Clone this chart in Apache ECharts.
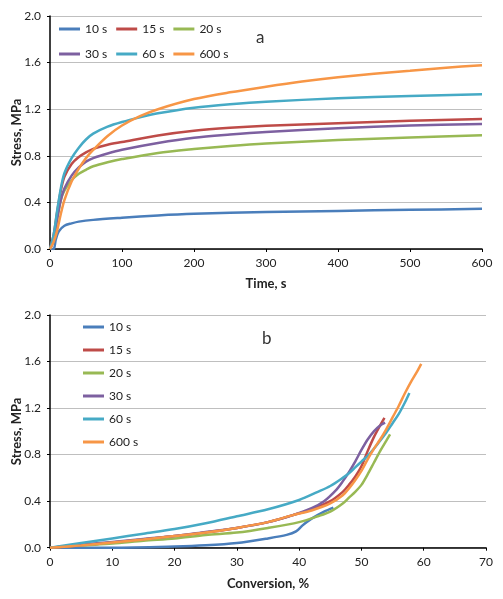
<!DOCTYPE html>
<html><head><meta charset="utf-8">
<script src="https://cdn.jsdelivr.net/npm/echarts@6/dist/echarts.min.js"></script>
<style>html,body{margin:0;padding:0;background:#fff}#c{width:503px;height:599px}</style>
</head><body><div id="c"></div>
<script>
const seriesNames = ['10 s','15 s','20 s','30 s','60 s','600 s'];
const colors = ['#4A7EBB','#BE4B48','#98B954','#7D60A0','#46AAC5','#F79646'];
const yTicks = [0.0,0.4,0.8,1.2,1.6,2.0];

// Panel a: time (s) vs stress (MPa)
const timeA_10 = [[0,0],[5,0],[8,0.08],[12,0.15],[20,0.2],[30,0.22],[40,0.235],[60,0.25],[100,0.268],[150,0.288],[200,0.302],[300,0.317],[400,0.327],[500,0.336],[600,0.345]];
const timeA_15 = [[0,0],[5,0.12],[10,0.32],[15,0.5],[20,0.62],[30,0.73],[40,0.79],[50,0.83],[60,0.86],[80,0.895],[100,0.918],[150,0.975],[200,1.015],[250,1.04],[300,1.057],[400,1.08],[500,1.1],[600,1.116]];
const timeA_20 = [[0,0],[5,0.08],[10,0.26],[15,0.42],[20,0.5],[30,0.59],[40,0.645],[50,0.68],[60,0.71],[80,0.745],[100,0.772],[150,0.825],[200,0.858],[250,0.885],[300,0.906],[400,0.935],[500,0.958],[600,0.977]];
const timeA_30 = [[0,0],[5,0.08],[10,0.26],[15,0.42],[20,0.52],[30,0.63],[40,0.70],[50,0.75],[60,0.78],[80,0.82],[100,0.852],[150,0.91],[200,0.955],[250,0.982],[300,1.004],[400,1.037],[500,1.06],[600,1.074]];
const timeA_60 = [[0,0],[5,0.12],[10,0.33],[15,0.52],[20,0.65],[30,0.78],[40,0.87],[50,0.94],[60,0.99],[80,1.05],[100,1.09],[125,1.13],[150,1.165],[200,1.213],[250,1.243],[300,1.265],[400,1.293],[500,1.313],[600,1.328]];
const timeA_600 = [[0,0],[5,0.06],[10,0.16],[15,0.3],[20,0.42],[30,0.58],[40,0.69],[50,0.78],[60,0.85],[80,0.97],[100,1.06],[125,1.14],[150,1.2],[200,1.287],[250,1.345],[300,1.393],[350,1.437],[400,1.474],[450,1.505],[500,1.53],[550,1.556],[600,1.578]];

// Panel b: conversion (%) vs stress (MPa)
const convB_10 = [[0,0],[10,0],[20,0.01],[25,0.02],[30,0.04],[35,0.08],[38,0.11],[39.5,0.14],[40.5,0.19],[42,0.25],[44,0.31],[45.5,0.345]];
const convB_15 = [[0,0],[5,0.02],[10,0.045],[15,0.07],[20,0.1],[25,0.13],[30,0.17],[35,0.22],[39,0.28],[42,0.33],[45,0.4],[47,0.48],[48,0.54],[49,0.61],[50,0.7],[51,0.83],[52,0.95],[53,1.05],[53.7,1.115]];
const convB_20 = [[0,0],[5,0.02],[10,0.035],[15,0.06],[20,0.08],[25,0.11],[30,0.13],[35,0.17],[40,0.22],[43,0.27],[45,0.31],[47,0.38],[48,0.43],[49,0.48],[50,0.54],[51,0.63],[52,0.73],[53,0.83],[54,0.92],[54.6,0.975]];
const convB_30 = [[0,0],[5,0.025],[10,0.05],[15,0.075],[20,0.1],[25,0.135],[30,0.17],[35,0.22],[39,0.28],[42,0.34],[44,0.4],[46,0.5],[47,0.57],[48,0.65],[49,0.74],[50,0.84],[51,0.93],[52,1.0],[53,1.05],[53.8,1.075]];
const convB_60 = [[0,0],[5,0.04],[10,0.08],[15,0.12],[20,0.16],[25,0.21],[30,0.27],[35,0.33],[40,0.41],[43,0.48],[45,0.53],[47,0.6],[48,0.64],[49,0.69],[50,0.74],[51,0.79],[52,0.85],[53,0.92],[54,0.99],[55,1.07],[56,1.15],[57,1.25],[57.7,1.33]];
const convB_600 = [[0,0],[5,0.02],[10,0.045],[15,0.07],[20,0.1],[25,0.13],[30,0.17],[35,0.22],[39,0.28],[42,0.32],[45,0.38],[47,0.45],[48,0.51],[49,0.58],[50,0.66],[51,0.76],[52,0.85],[53,0.93],[54,1.02],[55,1.12],[56,1.22],[57,1.33],[58,1.43],[59,1.52],[59.6,1.58]];

const dataA = [timeA_10,timeA_15,timeA_20,timeA_30,timeA_60,timeA_600];
const dataB = [convB_10,convB_15,convB_20,convB_30,convB_60,convB_600];

const FONT = 'Lato, "Open Sans", sans-serif';
function yAxis(idx){
  return {gridIndex:idx,type:'value',min:0,max:2,interval:0.4,
    name:'Stress, MPa',nameLocation:'middle',nameGap:27,nameMoveOverlap:false,
    nameTextStyle:{fontFamily:FONT,fontWeight:'bold',fontSize:13,color:'#222'},
    axisLine:{show:true,lineStyle:{color:'#000',width:1.5}},
    axisTick:{show:true,length:3,lineStyle:{color:'#000'}},
    axisLabel:{fontFamily:FONT,fontSize:12,color:'#222',margin:9,formatter:v=>v.toFixed(1)},
    splitLine:{show:true,lineStyle:{color:'#BFBFBF',width:1}}};
}
function xAxis(idx,max,interval,name,gap){
  return {gridIndex:idx,type:'value',min:0,max:max,interval:interval,
    name:name,nameLocation:'middle',nameGap:gap,nameMoveOverlap:false,
    nameTextStyle:{fontFamily:FONT,fontWeight:'bold',fontSize:13,color:'#222'},
    axisLine:{show:true,onZero:false,lineStyle:{color:'#000',width:1.5}},
    axisTick:{show:true,length:3,lineStyle:{color:'#000'}},
    axisLabel:{fontFamily:FONT,fontSize:12,color:'#222',margin:8},
    splitLine:{show:false}};
}
const series = [];
dataA.forEach((d,i)=>series.push({name:seriesNames[i],type:'line',xAxisIndex:0,yAxisIndex:0,data:d,
  showSymbol:false,smooth:0.3,lineStyle:{width:2.5,color:colors[i]},itemStyle:{color:colors[i]}}));
dataB.forEach((d,i)=>series.push({name:seriesNames[i],type:'line',xAxisIndex:1,yAxisIndex:1,data:d,
  showSymbol:false,smooth:0.3,lineStyle:{width:2.5,color:colors[i]},itemStyle:{color:colors[i]}}));

const legendCommon = {icon:'rect',itemWidth:21,itemHeight:3,padding:0,
  textStyle:{fontFamily:FONT,fontSize:12,color:'#222',width:34}};
const option = {
  animation:false,
  color:colors,
  grid:[{left:50,top:16,right:21,bottom:350,outerBoundsMode:'none',containLabel:false},
        {left:50,top:315,right:17,bottom:51.3,outerBoundsMode:'none',containLabel:false}],
  xAxis:[xAxis(0,600,100,'Time, s',28),xAxis(1,70,10,'Conversion, %',30)],
  yAxis:[yAxis(0),yAxis(1)],
  legend:[
    Object.assign({},legendCommon,{left:59,top:23,itemGap:9,orient:'horizontal',data:seriesNames.slice(0,3)}),
    Object.assign({},legendCommon,{left:59,top:48,itemGap:9,orient:'horizontal',data:seriesNames.slice(3,6)}),
    Object.assign({},legendCommon,{left:83,top:321,itemGap:11,orient:'vertical',data:seriesNames})
  ],
  graphic:[
    {type:'text',left:256,top:29,style:{text:'a',font:'17px '+FONT,fill:'#333'}},
    {type:'text',left:262,top:330,style:{text:'b',font:'17px '+FONT,fill:'#333'}}
  ],
  series:series
};
const chart = echarts.init(document.getElementById('c'),null,{renderer:'canvas'});
chart.setOption(option);
</script></body></html>
